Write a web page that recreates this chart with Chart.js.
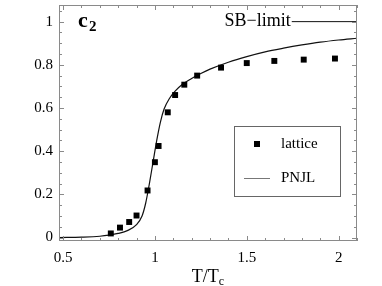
<!DOCTYPE html>
<html>
<head>
<meta charset="utf-8">
<script src="https://cdn.jsdelivr.net/npm/chart.js@4.4.0/dist/chart.umd.min.js"></script>
<style>
  html, body { margin: 0; padding: 0; background: #fff; }
  #wrap { width: 382px; height: 286px; }
</style>
</head>
<body>
<div id="wrap"><canvas id="c2-chart" width="382" height="286"></canvas></div>
<script>
// lattice points (T/Tc, c2)
var latticeT = [0.76, 0.81, 0.86, 0.90, 0.96, 1.00, 1.02, 1.07, 1.11, 1.16, 1.23, 1.36, 1.50, 1.65, 1.81, 1.98];
var latticeC2 = [0.019, 0.046, 0.072, 0.102, 0.218, 0.349, 0.424, 0.580, 0.660, 0.708, 0.750, 0.787, 0.808, 0.818, 0.824, 0.829];

// PNJL curve
var pnjlT = [0.48, 0.6, 0.7, 0.75, 0.8, 0.85, 0.9, 0.93, 0.95, 0.97, 0.99, 1.01, 1.03, 1.05, 1.08, 1.11, 1.15, 1.2, 1.25, 1.3, 1.4, 1.5, 1.6, 1.7, 1.8, 1.9, 2.0, 2.1];
var pnjlC2 = [0.0, 0.002, 0.006, 0.011, 0.019, 0.032, 0.06, 0.1, 0.16, 0.25, 0.35, 0.45, 0.535, 0.595, 0.645, 0.678, 0.71, 0.737, 0.76, 0.78, 0.812, 0.838, 0.86, 0.877, 0.892, 0.905, 0.915, 0.923];

// Stefan-Boltzmann limit segment
var sbT = [1.745, 2.1];
var sbC2 = [1, 1];

var xTicks = [0.5, 1, 1.5, 2];
var yTicks = [0, 0.2, 0.4, 0.6, 0.8, 1];

function pts(xs, ys) {
  var out = [];
  for (var i = 0; i < xs.length; i++) out.push({x: xs[i], y: ys[i]});
  return out;
}

var serif = "'Liberation Serif', 'DejaVu Serif', serif";

// frame with inward ticks on all sides, plus the text bits Chart.js can't do
var framePlugin = {
  id: 'frame',
  afterDraw: function(chart) {
    var ctx = chart.ctx, a = chart.chartArea;
    var xs = chart.scales.x, ys = chart.scales.y;
    var v, p, i, len;
    ctx.save();
    ctx.strokeStyle = '#8a8a8a';
    ctx.lineWidth = 1;
    ctx.strokeRect(a.left + 0.5, a.top + 0.5, a.right - a.left - 1, a.bottom - a.top - 1);
    ctx.beginPath();
    for (i = 5; i <= 21; i++) {
      v = i / 10;
      p = Math.round(xs.getPixelForValue(v)) + 0.5;
      len = (i % 5 === 0) ? 5 : 3;
      ctx.moveTo(p, a.bottom); ctx.lineTo(p, a.bottom - len);
      ctx.moveTo(p, a.top); ctx.lineTo(p, a.top + len);
    }
    for (i = 0; i <= 21; i++) {
      v = i / 20;
      p = Math.round(ys.getPixelForValue(v)) + 0.5;
      len = (i % 4 === 0) ? 5 : 3;
      ctx.moveTo(a.left, p); ctx.lineTo(a.left + len, p);
      ctx.moveTo(a.right, p); ctx.lineTo(a.right - len, p);
    }
    ctx.stroke();

    ctx.fillStyle = '#000';
    ctx.textBaseline = 'alphabetic';
    // c_2 label
    ctx.font = 'bold 22px ' + serif;
    ctx.fillText('c', a.left + 19, 27);
    ctx.font = 'bold 15px ' + serif;
    ctx.fillText('2', a.left + 30, 31);

    // SB-limit text, right aligned to the start of the line
    ctx.font = '18px ' + serif;
    ctx.textAlign = 'right';
    ctx.fillText('SB\u2212limit', xs.getPixelForValue(sbT[0]) - 1, 26);

    // x axis title T/Tc
    ctx.textAlign = 'left';
    ctx.font = '18px ' + serif;
    var w1 = ctx.measureText('T/T').width;
    ctx.font = '12px ' + serif;
    var w2 = ctx.measureText('c').width;
    var x0 = (a.left + a.right) / 2 - (w1 + w2) / 2;
    ctx.font = '18px ' + serif;
    ctx.fillText('T/T', x0, 282);
    ctx.font = '12px ' + serif;
    ctx.fillText('c', x0 + w1, 285);

    // legend box
    var bx = a.left + 175, by = a.top + 121, bw = 106, bh = 70;
    ctx.strokeStyle = '#666';
    ctx.strokeRect(bx + 0.5, by + 0.5, bw, bh);
    ctx.fillStyle = '#000';
    ctx.fillRect(bx + 20, by + 15, 6, 6);
    ctx.beginPath();
    ctx.strokeStyle = '#777';
    ctx.moveTo(bx + 10, by + 52.5); ctx.lineTo(bx + 36, by + 52.5);
    ctx.stroke();
    ctx.font = '15px ' + serif;
    ctx.textBaseline = 'middle';
    ctx.fillText('lattice', bx + 47, by + 18);
    ctx.fillText('PNJL', bx + 47, by + 52);
    ctx.restore();
  }
};

function plain(v) { return String(v); }

new Chart(document.getElementById('c2-chart'), {
  type: 'line',
  data: {
    datasets: [
      {
        label: 'lattice',
        data: pts(latticeT, latticeC2),
        showLine: false,
        pointStyle: 'rect',
        pointRadius: 4.2,
        backgroundColor: '#000',
        borderColor: '#000',
        borderWidth: 0
      },
      {
        label: 'PNJL',
        data: pts(pnjlT, pnjlC2),
        borderColor: '#111',
        borderWidth: 1.2,
        pointRadius: 0,
        cubicInterpolationMode: 'monotone'
      },
      {
        label: 'SB',
        data: pts(sbT, sbC2),
        borderColor: '#111',
        borderWidth: 1,
        pointRadius: 0
      }
    ]
  },
  options: {
    responsive: false,
    animation: false,
    layout: { padding: { left: 0, right: 25, top: 5, bottom: 0 } },
    plugins: { legend: { display: false }, tooltip: { enabled: false } },
    scales: {
      x: {
        type: 'linear',
        min: 0.478, max: 2.1,
        grid: { display: false, drawTicks: false },
        border: { display: false },
        afterBuildTicks: function(s) { s.ticks = xTicks.map(function(v) { return {value: v}; }); },
        afterFit: function(s) { s.height = 45; s.paddingLeft = 0; s.paddingRight = 0; },
        ticks: { color: '#000', padding: 8, maxRotation: 0, callback: plain, font: { family: serif, size: 15 } }
      },
      y: {
        type: 'linear',
        min: -0.016, max: 1.077,
        grid: { display: false, drawTicks: false },
        border: { display: false },
        afterBuildTicks: function(s) { s.ticks = yTicks.map(function(v) { return {value: v}; }); },
        afterFit: function(s) { s.width = 59; s.paddingTop = 0; s.paddingBottom = 0; },
        ticks: { color: '#000', padding: 6, callback: plain, font: { family: serif, size: 15 } }
      }
    }
  },
  plugins: [framePlugin]
});
</script>
</body>
</html>
